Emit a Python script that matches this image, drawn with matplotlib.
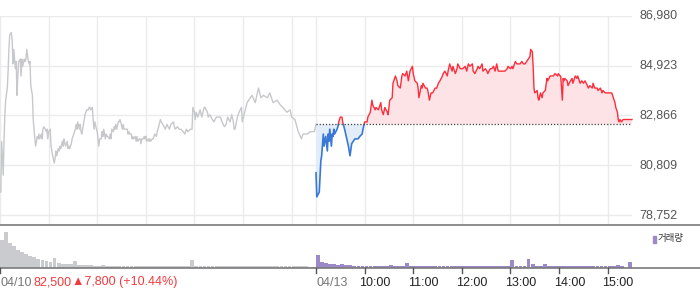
import matplotlib
matplotlib.use("Agg")
import matplotlib.pyplot as plt
from matplotlib.patches import Rectangle
from matplotlib.lines import Line2D
import numpy as np

plt.rcParams['font.family'] = ['Liberation Sans', 'DejaVu Sans']

# ---------------- data ----------------
# minutes after 09:00 and price, day 1 (04/10)
day1_min = [0, 1, 2, 4, 5, 6, 7, 9, 10, 11, 12, 14, 15, 16, 17, 19, 20, 21, 22, 23, 25, 26, 27, 28, 30, 31, 32, 33, 35, 36, 37, 38, 40, 41, 42, 43,
            44, 46, 47, 48, 49, 51, 52, 53, 54, 56, 57, 58, 59, 60, 62, 63, 64, 65, 67, 68, 69, 70, 72, 73, 74, 75, 77, 78, 79, 80, 81, 83, 84, 85, 86, 88,
            89, 90, 91, 93, 94, 95, 96, 98, 99, 100, 101, 102, 104, 105, 106, 107, 109, 110, 111, 112, 114, 115, 116, 117, 119, 120, 121,
            122, 123, 125, 126, 127, 128, 130, 131, 132, 133, 135, 136, 137, 138, 140, 141, 142, 143, 144, 146, 147, 148, 149, 151, 152, 153, 154,
            156, 157, 158, 159, 160, 162, 163, 164, 165, 167, 168, 169, 170, 172, 173, 174, 175, 177, 178, 179, 180, 181, 183, 184, 185, 186, 188,
            189, 190, 191, 193, 194, 195, 198, 199, 201, 204, 206, 209, 211, 214, 216, 219, 221, 223, 226, 228, 230, 232, 235, 237, 238, 240,
            241, 242, 244, 247, 249, 252, 253, 256, 257, 259, 262, 264, 267, 269, 272, 274, 277, 279, 281, 284, 286, 288, 289, 290, 293, 295,
            298, 299, 302, 305, 309, 311, 315, 319, 322, 325, 330, 333, 337, 342, 346, 349, 354, 358, 360, 364, 368, 372, 374, 379, 383, 388, 390]
day1_price = [79700, 79700, 81800, 80400, 81900, 82900, 83500, 84000, 84700, 85600, 86200, 86300, 86000, 85000, 85600, 84800, 85100, 83700,
              84500, 85100, 85200, 84500, 85200, 84900, 85200, 85100, 85200, 85600, 85100, 85000, 85100, 84100, 83700, 82700, 82300, 81900,
              81600, 82000, 81900, 82100, 81900, 82100, 81900, 82300, 82400, 82300, 82200, 82300, 81900, 82200, 82300, 81600, 81400, 81200,
              80900, 81100, 81400, 81200, 81500, 81400, 81600, 81500, 81800, 81600, 81900, 81700, 81600, 81800, 81500, 81600, 81500, 81700,
              81900, 82000, 82100, 82300, 82500, 82300, 82600, 82300, 82500, 82200, 82100, 82300, 82700, 82900, 83000, 83100, 83100, 83200,
              83200, 83100, 83200, 82700, 82300, 82600, 82300, 82200, 81900,
              81600, 81900, 81900, 82200, 82000, 82300, 81900, 82100, 82000, 82000, 81900, 82100, 81900, 82300, 82200, 82400, 82300, 82500,
              82300, 82600, 82600, 82700, 82600, 82300, 82500, 82300, 82300,
              82300, 82300, 82100, 82200, 82100, 82100, 81900, 82000, 81900, 82000, 81800, 82000, 81800, 81900, 81900, 81700, 81900, 81900,
              82000, 81900, 82000, 81800, 81900, 81800, 81900, 81800, 81900,
              81900, 82000, 82100, 82000, 82200, 82300, 82700, 82600, 82500, 82300, 82500, 82300, 82500, 82600, 82300, 82400, 82300, 82300,
              82200, 82100, 82300, 82200, 82300, 82300, 83200, 83000,
              82700, 83000, 82800, 83100, 82800, 83200, 83200, 83000, 82800, 82900, 82700, 82600, 82800, 82800, 82800, 82600, 82400, 82500,
              82800, 82600, 82900, 82600, 82300, 82300, 82800, 83000,
              83200, 82600, 83000, 83400, 83600, 83700, 83400, 84000, 83600, 83700, 83600, 83800, 83400, 83500, 83300, 83200, 83000, 83100,
              82800, 82700, 82200, 81900, 82100, 82100, 82200, 82200, 82500]

# minutes after 09:00 and price, day 2 (04/13)
day2_min = [0, 1, 4, 6, 7, 9, 10, 12, 14, 15, 16, 17, 19, 20, 21, 22, 23, 26, 27, 28, 30, 32, 33, 36, 38, 40, 42, 44, 46, 48, 51, 52, 54,
            57, 58, 60, 63, 64, 67, 69, 70, 73, 74, 77, 80, 81, 83, 85, 88, 89, 91, 94, 95, 98, 100, 101, 104, 106, 107, 110, 112, 114, 116,
            119, 120, 122, 125, 126, 127, 130, 131, 132, 135, 137, 138, 140, 142, 144, 147, 149, 151, 153, 156, 157, 159, 162, 163, 165, 168,
            169, 172, 174, 175, 178, 181, 184, 186, 188, 190, 193, 194, 196, 199, 200, 202, 205, 206, 209, 211, 212, 215, 217, 219, 221, 223,
            225, 230, 233, 236, 237, 240, 242, 243, 246, 248, 249, 252, 254, 256, 258, 260, 262, 264, 265, 267, 268, 269, 270, 273, 274, 275,
            277, 279, 280, 283, 285, 286, 289, 291, 293, 295, 298, 299, 301, 302, 304, 305, 306, 307, 310, 311, 314, 316, 317, 320, 322, 323,
            326, 328, 330, 332, 335, 336, 338, 341, 342, 344, 347, 348, 351, 353, 354, 357, 359, 360, 363, 365, 367, 369, 370, 372, 373, 374,
            375, 377, 379, 383, 388, 390]
day2_price = [80500, 79500, 79700, 81000, 81200, 82100, 81600, 82000, 81400, 82100, 81800, 82300, 81600, 82100, 82000, 82300, 82100,
              82300, 82400, 82600, 82800, 82800, 82600, 82200, 81900, 81600, 81200, 81700, 81800, 81900, 81900, 81900, 82000,
              82100, 82300, 82600, 82600, 82800, 83000, 83500, 83300, 83100, 83200, 83100, 83400, 83100, 82900, 83200, 83000, 82900,
              83500, 83600, 84200, 84500, 84300, 84100, 84000, 84500, 84600, 84500, 84700, 84300, 84700,
              84900, 84600, 84300, 84200, 84000, 83600, 84100, 84000, 84200, 84000, 84000, 83900, 83500, 83800, 83800, 84000, 84000, 84200,
              84300, 84500, 84600, 84700, 84500, 84700, 85000, 84700,
              84900, 84600, 84800, 85000, 84800, 84800, 84900, 84700, 85000, 84900, 85000, 84700, 84600, 84800, 84900, 84800, 85000, 84700,
              84800, 84700, 84600, 84800, 84800, 84900, 84700, 85000,
              84700, 84700, 84700, 84800, 84900, 84800, 84900, 84800, 85100, 85000, 85000, 85000, 85100, 85000, 85000, 85100, 85200, 85300,
              85600, 85500, 84900, 84000, 83800, 83900, 83600, 83500,
              83800, 83600, 83800, 83900, 84400, 84300, 84500, 84500, 84500, 84600, 84500, 84600, 84500, 84500, 83500, 84400, 84300, 84400,
              84300, 84100, 84300, 84400, 84200, 84500, 84400, 84500,
              84200, 84300, 84200, 84300, 84100, 84000, 84100, 84000, 84200, 84000, 84000, 83900, 84000, 83800, 83900, 83800, 83800, 83800,
              83800, 83800, 83600, 83400, 83200, 83000, 82700, 82600,
              82700, 82600, 82700, 82700, 82700, 82700]

base_price = 82500  # previous close (dotted line)

# volume per 5-minute bin (78 bins per day)
day1_volume = [280, 360, 250, 220, 180, 160, 140, 120, 110, 90, 80, 70, 60, 100, 50, 40, 40, 40, 70, 30,
               30, 30, 35, 25, 25, 30, 25, 20, 25, 20, 20, 25, 20, 20, 20, 20, 20, 20, 20, 20,
               20, 20, 20, 20, 20, 20, 20, 80, 20, 20, 20, 20, 20, 25, 20, 20, 20, 20, 20, 20,
               20, 20, 20, 25, 20, 20, 20, 20, 20, 20, 25, 20, 20, 20, 20, 20, 15, 15]
day2_volume = [130, 60, 50, 40, 40, 30, 40, 30, 30, 25, 25, 25, 20, 20, 20, 20, 20, 20, 30, 20,
               20, 20, 50, 20, 20, 20, 20, 25, 20, 20, 20, 20, 20, 20, 20, 20, 20, 20, 20, 20,
               20, 20, 20, 20, 20, 20, 20, 20, 80, 20, 20, 20, 90, 40, 20, 20, 40, 20, 20, 20,
               20, 20, 20, 20, 20, 20, 20, 20, 20, 20, 20, 20, 20, 20, 30, 20, 0, 60]

y_ticks = [78752, 80809, 82866, 84923, 86980]
y_tick_labels = ['78,752', '80,809', '82,866', '84,923', '86,980']
x_tick_labels = ['04/10', '04/13', '10:00', '11:00', '12:00', '13:00', '14:00', '15:00']
footer_price = '82,500'
footer_change = '\u25B27,800 (+10.44%)'
volume_label = '거래량'

# ---------------- style ----------------
W, H = 700, 289
GRID = '#ebebeb'
GRAY_LINE = '#c6c8cc'
RED = '#ff2d3c'
BLUE = '#3a78d8'
RED_FILL = '#fde3e6'
BLUE_FILL = '#e3edf9'
PURPLE = '#9c8ac8'
VGRAY = '#c9cbce'
TXT = '#555555'
FS = 9.0

fig = plt.figure(figsize=(W / 100, H / 100), dpi=100)
fig.patch.set_facecolor('white')

def fx(px):
    return px / W

def fy(py):
    return 1 - py / H

plot_right = 632
ax = fig.add_axes([0, fy(225), fx(plot_right), (225 - 16) / H])
axv = fig.add_axes([0, fy(268), fx(plot_right), (268 - 228) / H])

SESSION = 390
x1 = np.array(day1_min, dtype=float)
x2 = np.array(day2_min, dtype=float) + SESSION
p1 = np.array(day1_price, dtype=float)
p2 = np.array(day2_price, dtype=float)

step = y_ticks[1] - y_ticks[0]
ymin = y_ticks[0] - step * 10 / 49.75
ax.set_xlim(0, 2 * SESSION)
ax.set_ylim(ymin, y_ticks[-1])
for s in ax.spines.values():
    s.set_visible(False)
ax.set_xticks([])
ax.set_yticks([])

# gridlines
for yv in y_ticks:
    ax.axhline(yv, color=GRID, lw=1, zorder=0)
vx = [0] + [60 * h for h in range(1, 7)] + [SESSION] + [SESSION + 60 * h for h in range(1, 7)]
for xv in vx:
    ax.axvline(xv, color=GRID, lw=1, zorder=0)

# day 1 line
ax.plot(x1, p1, color=GRAY_LINE, lw=1.0, zorder=3)

# day 2 fill
ax.fill_between(x2, p2, base_price, where=p2 >= base_price, interpolate=True, color=RED_FILL, lw=0, zorder=1)
ax.fill_between(x2, p2, base_price, where=p2 <= base_price, interpolate=True, color=BLUE_FILL, lw=0, zorder=1)

# day 2 line, red above base, blue below
lr, = ax.plot(x2, p2, color=RED, lw=1.0, zorder=4)
lb, = ax.plot(x2, p2, color=BLUE, lw=1.2, zorder=4)
big = 1e6
lr.set_clip_path(Rectangle((-big, base_price), 2 * big, big, transform=ax.transData))
lb.set_clip_path(Rectangle((-big, base_price - big), 2 * big, big, transform=ax.transData))

# previous close dotted line
ax.plot([SESSION, 2 * SESSION], [base_price, base_price], color='#444444', lw=0.9, ls=(0, (1, 1.5)), zorder=5)

# right-side y labels
for yv, lab in zip(y_ticks, y_tick_labels):
    ypx = 16 + (y_ticks[-1] - yv) / step * 49.75
    fig.text(fx(639), fy(ypx), lab, ha='left', va='center', fontsize=FS, color=TXT)

# volume panel
bins1 = np.arange(len(day1_volume)) * 5
bins2 = np.arange(len(day2_volume)) * 5 + SESSION
axv.bar(bins1, day1_volume, width=4.7, align='edge', color=VGRAY, lw=0)
axv.bar(bins2, day2_volume, width=4.7, align='edge', color=PURPLE, lw=0)
axv.set_xlim(0, 2 * SESSION)
axv.set_ylim(0, 400)
for s in axv.spines.values():
    s.set_visible(False)
axv.set_xticks([])
axv.set_yticks([])

# separator lines across full width
fig.add_artist(Line2D([0, 1], [fy(225), fy(225)], color='#7a7a7a', lw=1.2))
fig.add_artist(Line2D([0, 1], [fy(268), fy(268)], color='#7a7a7a', lw=1.2))

# legend
fig.add_artist(Rectangle((fx(652.5), fy(242.5)), 3 / W, 7 / H, color=PURPLE, transform=fig.transFigure))
fig.text(fx(658), fy(239), volume_label, ha='left', va='center', fontsize=6.8, color='#333333',
         family=['Noto Sans CJK KR', 'DejaVu Sans'])

# x ticks and labels
tick_min = [0, SESSION] + [SESSION + 60 * h for h in range(1, 7)]
scale = plot_right / (2 * SESSION)
for i, (tm, lab) in enumerate(zip(tick_min, x_tick_labels)):
    px = tm * scale
    fig.add_artist(Line2D([fx(px), fx(px)], [fy(268), fy(272.5)], color='#555555', lw=1.0))
    if i < 2:
        fig.text(fx(px + 0.5), fy(282.5), lab, ha='left', va='center', fontsize=FS, color='#777777')
    else:
        fig.text(fx(px - 5.5), fy(282.5), lab, ha='left', va='center', fontsize=FS, color='#222222')

fig.text(fx(33.5), fy(282.5), footer_price, ha='left', va='center', fontsize=FS, color='#f03a3f')
fig.text(fx(72.5), fy(282.5), footer_change, ha='left', va='center', fontsize=FS, color='#f03a3f')

fig.savefig('out.png', dpi=100, facecolor='white')
